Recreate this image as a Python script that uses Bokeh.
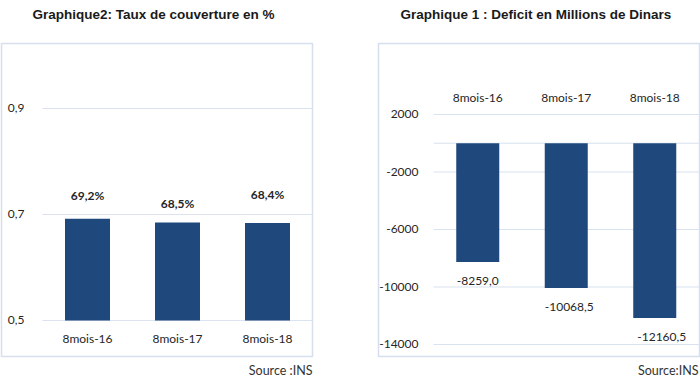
from bokeh.plotting import figure
from bokeh.layouts import row
from bokeh.models import ColumnDataSource, FixedTicker, Range1d, Title
from bokeh.core.properties import value
from bokeh.embed import file_html
from bokeh.resources import INLINE

# ---------------- data ----------------
categories = ["8mois-16", "8mois-17", "8mois-18"]

taux = [0.692, 0.685, 0.684]
taux_labels = ["69,2%", "68,5%", "68,4%"]
taux_ticks = [0.5, 0.7, 0.9]
taux_tick_labels = ["0,5", "0,7", "0,9"]

deficit = [-8259.0, -10068.5, -12160.5]
deficit_labels = ["-8259,0", "-10068,5", "-12160,5"]
deficit_ticks = [2000, -2000, -6000, -10000, -14000]
deficit_tick_labels = ["2000", "-2000", "-6000", "-10000", "-14000"]
deficit_grid = [2000, 0, -2000, -6000, -10000, -14000]

title_left = "Graphique2: Taux de couverture en %"
title_right = "Graphique 1 : Deficit en Millions de Dinars"
source_left = "Source :INS"
source_right = "Source:INS"

# ---------------- style ----------------
BAR = "#1f497d"
GRID = "#d9e2ef"
BOX = "#d5dfee"
TXT = "#262626"
FONT = "Lato"
TFONT = "Liberation Sans"
taux_label_dy = [-23, -19, -28]
deficit_label_dx = [0, 3, 7]

idx = list(range(len(categories)))
cat_left_edge = -0.5
cat_right_edge = len(categories) - 0.5

H = 384


def make_fig(width, x_range, y_range, min_left, min_right, x_loc):
    p = figure(x_range=x_range, y_range=y_range, width=width, height=H,
               output_backend="svg", toolbar_location=None,
               x_axis_location=x_loc,
               min_border_left=min_left, min_border_right=min_right,
               min_border_top=43, min_border_bottom=28)
    p.background_fill_color = "white"
    p.border_fill_color = "white"
    p.outline_line_color = BOX
    p.outline_line_width = 1.5
    p.xgrid.grid_line_color = None
    p.ygrid.grid_line_color = None
    for ax in (p.xaxis[0], p.yaxis[0]):
        ax.axis_line_color = None
        ax.major_tick_line_color = None
        ax.minor_tick_line_color = None
        ax.major_label_text_font = FONT
        ax.major_label_text_font_size = "12px"
        ax.major_label_text_color = TXT
        ax.major_label_standoff = 12
    p.xaxis.ticker = FixedTicker(ticks=idx)
    p.xaxis.major_label_overrides = dict(zip(idx, categories))
    p.yaxis.fixed_location = cat_left_edge
    return p


def add_titles(p, title, title_offset, source, source_offset):
    # trailing blank line lifts the visible title line away from the box
    p.title.text = title + "\n "
    p.title.align = "left"
    p.title.vertical_align = "bottom"
    p.title.offset = title_offset
    p.title.text_font = TFONT
    p.title.text_font_size = "13.5px"
    p.title.text_font_style = "bold"
    p.title.text_color = "#1a1a1a"
    p.title.text_line_height = 1.15
    p.title.standoff = 8
    p.add_layout(Title(text=source, align="right", offset=source_offset,
                       text_font=FONT, text_font_size="12.5px",
                       text_font_style="normal", text_color="#333333",
                       standoff=8), "below")


# ---------------- left chart ----------------
src1 = ColumnDataSource(dict(x=idx, val=taux, lab=taux_labels, dy=taux_label_dy))
p1 = make_fig(348, Range1d(-0.9556, 2.5), Range1d(0.432, 1.0226), 1, 36, "below")
p1.yaxis.ticker = FixedTicker(ticks=taux_ticks)
p1.yaxis.major_label_overrides = dict(zip(taux_ticks, taux_tick_labels))
p1.xaxis.fixed_location = taux_ticks[0]
p1.xaxis.major_label_standoff = 5
p1.segment(x0=cat_left_edge, x1=cat_right_edge, y0=taux_ticks, y1=taux_ticks,
           line_color=GRID, line_width=1)
p1.vbar(x="x", top="val", bottom=taux_ticks[0], width=0.5, source=src1,
        fill_color=BAR, line_color=None)
p1.text(x="x", y="val", text="lab", y_offset="dy", source=src1,
        text_align="center", text_baseline="middle",
        text_font=value(FONT), text_font_size="12px", text_font_style="bold",
        text_color=TXT)
add_titles(p1, title_left, 31, source_left, 0)

# ---------------- right chart ----------------
src2 = ColumnDataSource(dict(x=idx, val=deficit, lab=deficit_labels,
                             dx=deficit_label_dx))
p2 = make_fig(352, Range1d(-1.1215, 2.517), Range1d(-14835, 6939), 30, 0, "above")
p2.yaxis.ticker = FixedTicker(ticks=deficit_ticks)
p2.yaxis.major_label_overrides = dict(zip(deficit_ticks, deficit_tick_labels))
p2.yaxis.major_label_standoff = 9
p2.xaxis.fixed_location = deficit_ticks[0]
p2.xaxis.major_label_standoff = 3
p2.segment(x0=cat_left_edge, x1=cat_right_edge + 1, y0=deficit_grid,
           y1=deficit_grid, line_color=GRID, line_width=1)
p2.vbar(x="x", top=0, bottom="val", width=0.486, source=src2,
        fill_color=BAR, line_color=None)
p2.text(x="x", y="val", text="lab", x_offset="dx", y_offset=19, source=src2,
        text_align="center", text_baseline="middle",
        text_font=value(FONT), text_font_size="12px", text_color=TXT)
add_titles(p2, title_right, 22, source_right, 2)

layout = row(p1, p2)
open("out.html", "w").write(file_html(layout, INLINE))
